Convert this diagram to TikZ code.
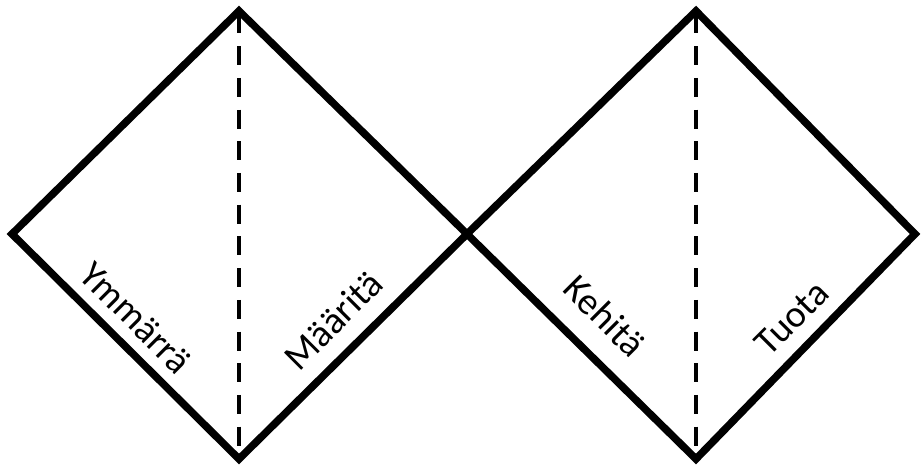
\documentclass[tikz,border=0pt]{standalone}
\usepackage{fontspec}
\setmainfont{Carlito}
\tikzset{
  rim/.style={draw=black,line width=7.5pt,miter limit=10,line join=miter},
  split/.style={draw=black,line width=4.5pt,dash pattern=on 19pt off 12.7pt,dash phase=28.2pt},
  lbl/.style={font=\fontsize{38}{40}\selectfont,inner sep=0pt},
}
\begin{document}
\begin{tikzpicture}[x=1pt,y=-1pt]
  \useasboundingbox (0,0) rectangle (921,465);
  % vertices
  \coordinate (wl) at (12,234);
  \coordinate (tl) at (239,11);
  \coordinate (bl) at (239,459);
  \coordinate (mid) at (467,234);
  \coordinate (tr) at (696,11);
  \coordinate (br) at (696,459);
  \coordinate (er) at (915,234);
  \draw[split] (tl) -- (bl);
  \draw[split] (tr) -- (br);
  \draw[rim] (wl) -- (tl) -- (mid) -- (bl) -- cycle;
  \draw[rim] (mid) -- (tr) -- (er) -- (br) -- cycle;
  \node[lbl,rotate=-45] (ymm) at (136,318) {Ymmärrä};
  \node[lbl,rotate=45] (maa) at (333,320) {Määritä};
  \node[lbl,rotate=-45] (keh) at (605,316) {Kehitä};
  \node[lbl,rotate=45] (tuo) at (792,318) {Tuota};
\end{tikzpicture}
\end{document}
